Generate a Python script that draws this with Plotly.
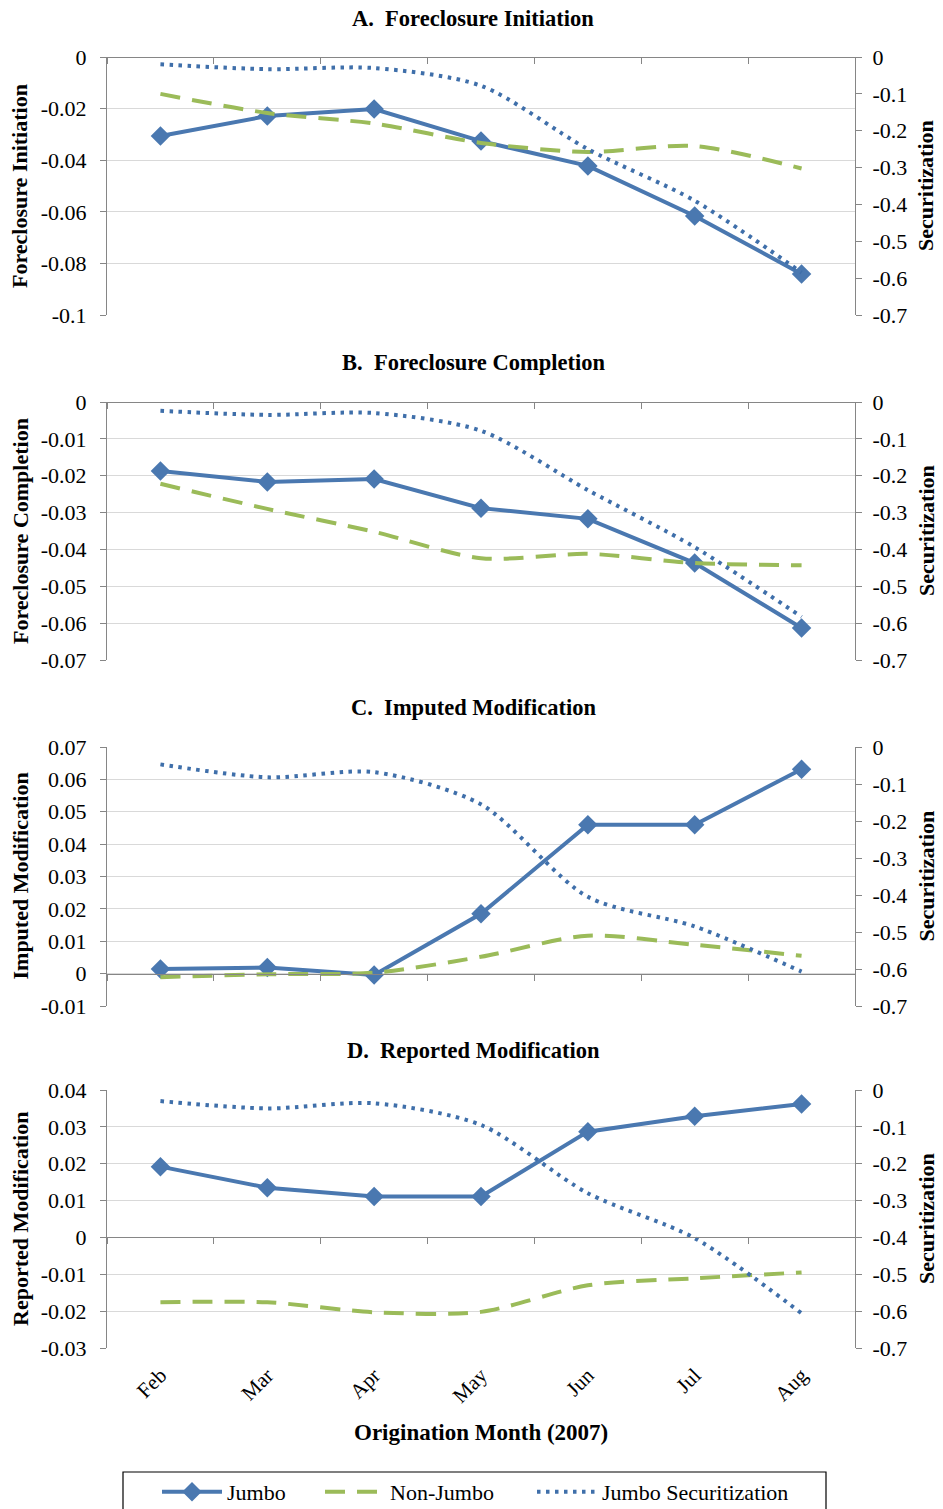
import plotly.graph_objects as go

# ---------------- data ----------------
months = ["Feb", "Mar", "Apr", "May", "Jun", "Jul", "Aug"]
series_names = ["Jumbo", "Non-Jumbo", "Jumbo Securitization"]

panel_titles = ["A.\u00a0 Foreclosure Initiation", "B.\u00a0 Foreclosure Completion",
                "C.\u00a0 Imputed Modification", "D.\u00a0 Reported Modification"]
left_titles = ["Foreclosure Initiation", "Foreclosure Completion",
               "Imputed Modification", "Reported Modification"]
right_title = "Securitization"
x_title = "Origination Month (2007)"

a_jumbo = [-0.0306, -0.0229, -0.0202, -0.0326, -0.0422, -0.0616, -0.0841]
a_nonjumbo = [-0.0143, -0.0217, -0.0258, -0.0333, -0.0368, -0.0345, -0.0432]
a_sec = [-0.020, -0.033, -0.030, -0.078, -0.250, -0.390, -0.585]

b_jumbo = [-0.0187, -0.0217, -0.0209, -0.0288, -0.0317, -0.0437, -0.0613]
b_nonjumbo = [-0.0222, -0.0290, -0.0352, -0.0424, -0.0412, -0.0437, -0.0443]
b_sec = [-0.024, -0.035, -0.030, -0.078, -0.239, -0.394, -0.583]

c_jumbo = [0.0014, 0.0019, -0.0004, 0.0185, 0.0460, 0.0460, 0.0631]
c_nonjumbo = [-0.0011, -0.0002, 0.0003, 0.0052, 0.0117, 0.0089, 0.0055]
c_sec = [-0.047, -0.082, -0.068, -0.155, -0.405, -0.485, -0.607]

d_jumbo = [0.0192, 0.0135, 0.0111, 0.0111, 0.0287, 0.0329, 0.0362]
d_nonjumbo = [-0.0176, -0.0176, -0.0203, -0.0202, -0.0130, -0.0111, -0.0095]
d_sec = [-0.030, -0.050, -0.036, -0.095, -0.280, -0.402, -0.606]

left_tickvals = [
    [0, -0.02, -0.04, -0.06, -0.08, -0.1],
    [0, -0.01, -0.02, -0.03, -0.04, -0.05, -0.06, -0.07],
    [0.07, 0.06, 0.05, 0.04, 0.03, 0.02, 0.01, 0, -0.01],
    [0.04, 0.03, 0.02, 0.01, 0, -0.01, -0.02, -0.03],
]
left_ticktext = [
    ["0", "-0.02", "-0.04", "-0.06", "-0.08", "-0.1"],
    ["0", "-0.01", "-0.02", "-0.03", "-0.04", "-0.05", "-0.06", "-0.07"],
    ["0.07", "0.06", "0.05", "0.04", "0.03", "0.02", "0.01", "0", "-0.01"],
    ["0.04", "0.03", "0.02", "0.01", "0", "-0.01", "-0.02", "-0.03"],
]
right_tickvals = [0, -0.1, -0.2, -0.3, -0.4, -0.5, -0.6, -0.7]
right_ticktext = ["0", "-0.1", "-0.2", "-0.3", "-0.4", "-0.5", "-0.6", "-0.7"]

panels = [
    (a_jumbo, a_nonjumbo, a_sec),
    (b_jumbo, b_nonjumbo, b_sec),
    (c_jumbo, c_nonjumbo, c_sec),
    (d_jumbo, d_nonjumbo, d_sec),
]

# ---------------- layout geometry (page pixels) ----------------
PAGE_W, PAGE_H = 943, 1509
OFF = 8  # default body margin of the html page
W, H = PAGE_W - OFF, PAGE_H - OFF
plot_left, plot_right = 107, 855
panel_px = [(57, 315), (402, 660), (747, 1006), (1090, 1348)]
title_y_px = [19, 362, 707, 1050]
legend_x_px = [157, 320, 532]
legend_box_px = (123, 1472, 826, 1530)

BLUE = "#4A78B0"
GREEN = "#9BBB59"
DOTBLUE = "#3F6FAA"
AXIS = "#868686"
GRID = "#D9D9D9"
FONT = "Liberation Serif"


def py(px):
    return 1 - (px - OFF) / H


def px_x(px):
    return (px - OFF) / W


fig = go.Figure()
layout = {}
annotations = []
legend_ids = ["legend", "legend2", "legend3"]

for i, (jumbo, nonjumbo, sec) in enumerate(panels):
    n = i + 1
    xa = "x" if n == 1 else f"x{n}"
    ya = "y" if n == 1 else f"y{n}"
    ya2 = f"y{n + 4}"
    show = (i == 0)

    fig.add_trace(go.Scatter(
        x=months, y=jumbo, name=series_names[0], xaxis=xa, yaxis=ya,
        mode="lines+markers", line=dict(color=BLUE, width=4),
        marker=dict(symbol="diamond", size=15, color=BLUE),
        showlegend=show, legend=legend_ids[0]))
    fig.add_trace(go.Scatter(
        x=months, y=nonjumbo, name=series_names[1], xaxis=xa, yaxis=ya,
        mode="lines", line=dict(color=GREEN, width=4, dash="20px,12px",
                                shape="spline", smoothing=0.8),
        showlegend=show, legend=legend_ids[1]))
    fig.add_trace(go.Scatter(
        x=months, y=sec, name=series_names[2], xaxis=xa, yaxis=ya2,
        mode="lines", line=dict(color=DOTBLUE, width=4, dash="3.5px,5.5px",
                                shape="spline", smoothing=0.8),
        showlegend=show, legend=legend_ids[2]))

    top_px, bot_px = panel_px[i]
    d0, d1 = py(bot_px), py(top_px)
    lo, hi = min(left_tickvals[i]), max(left_tickvals[i])
    zero_pos = d0 + (0 - lo) / (hi - lo) * (d1 - d0)

    layout[f"xaxis{'' if n == 1 else n}"] = dict(
        domain=[px_x(plot_left), px_x(plot_right)],
        anchor="free", position=zero_pos,
        type="category", categoryorder="array", categoryarray=months,
        range=[-0.5, len(months) - 0.5],
        tickson="boundaries", ticks="outside", ticklen=6, tickcolor=AXIS,
        showline=True, linecolor=AXIS, linewidth=1,
        showgrid=False, zeroline=False, showticklabels=False,
        automargin=False,
    )
    layout[f"yaxis{'' if n == 1 else n}"] = dict(
        domain=[d0, d1], anchor=xa, range=[lo, hi],
        tickmode="array", tickvals=left_tickvals[i], ticktext=left_ticktext[i],
        ticks="outside", ticklen=6, tickcolor=AXIS, ticklabelstandoff=9,
        showline=True, linecolor=AXIS, linewidth=1,
        showgrid=True, gridcolor=GRID, gridwidth=1, zeroline=False,
        tickfont=dict(family=FONT, size=22, color="black"),
        automargin=False,
    )
    layout[f"yaxis{n + 4}"] = dict(
        overlaying=ya, anchor=xa, side="right", range=[-0.7, 0],
        tickmode="array", tickvals=right_tickvals, ticktext=right_ticktext,
        ticks="outside", ticklen=6, tickcolor=AXIS, ticklabelstandoff=6,
        showline=True, linecolor=AXIS, linewidth=1,
        showgrid=False, zeroline=False,
        tickfont=dict(family=FONT, size=22, color="black"),
        automargin=False,
    )

    # panel title
    annotations.append(dict(
        text=f"<b>{panel_titles[i]}</b>", xref="paper", yref="paper",
        x=px_x(473), y=py(title_y_px[i]), xanchor="center", yanchor="middle",
        showarrow=False, font=dict(family=FONT, size=22.5, color="black")))
    mid = (top_px + bot_px) / 2
    annotations.append(dict(
        text=f"<b>{left_titles[i]}</b>", xref="paper", yref="paper",
        x=px_x(20), y=py(mid), xanchor="center", yanchor="middle",
        textangle=-90, showarrow=False,
        font=dict(family=FONT, size=22, color="black")))
    annotations.append(dict(
        text=f"<b>{right_title}</b>", xref="paper", yref="paper",
        x=px_x(926), y=py(mid), xanchor="center", yanchor="middle",
        textangle=-90, showarrow=False,
        font=dict(family=FONT, size=22, color="black")))

# helper (empty) trace so the month-label axis of the last panel is drawn
fig.add_trace(go.Scatter(x=[], y=[], xaxis="x5", yaxis="y4",
                         showlegend=False, hoverinfo="skip"))

layout["xaxis5"] = dict(
    domain=[px_x(plot_left), px_x(plot_right)],
    overlaying="x4", anchor="y4", side="bottom",
    type="linear", range=[-0.5, len(months) - 0.5],
    tickmode="array", tickvals=list(range(len(months))), ticktext=months,
    tickangle=-45, ticks="", showline=False, showgrid=False, zeroline=False,
    ticklabelstandoff=10, automargin=False,
    tickfont=dict(family=FONT, size=21, color="black"),
)

annotations.append(dict(
    text=f"<b>{x_title}</b>", xref="paper", yref="paper",
    x=px_x(481), y=py(1432), xanchor="center", yanchor="middle",
    showarrow=False, font=dict(family=FONT, size=23, color="black")))

legend_common = dict(orientation="h", yanchor="middle", xanchor="left",
                     bgcolor="rgba(0,0,0,0)", borderwidth=0,
                     font=dict(family=FONT, size=22, color="black"),
                     itemwidth=60)
for k, lid in enumerate(legend_ids):
    layout[lid] = dict(legend_common, x=px_x(legend_x_px[k]), y=py(1492))

bx0, by0, bx1, by1 = legend_box_px
shapes = [dict(type="rect", xref="paper", yref="paper",
               x0=px_x(bx0), x1=px_x(bx1), y0=py(by1), y1=py(by0),
               line=dict(color="black", width=1.2), fillcolor="rgba(0,0,0,0)")]

fig.update_layout(
    width=W, height=H, autosize=False,
    margin=dict(l=0, r=0, t=0, b=0, autoexpand=False),
    paper_bgcolor="white", plot_bgcolor="white",
    font=dict(family=FONT, size=22, color="black"),
    annotations=annotations, shapes=shapes,
    **layout,
)

fig.write_html("out.html")
